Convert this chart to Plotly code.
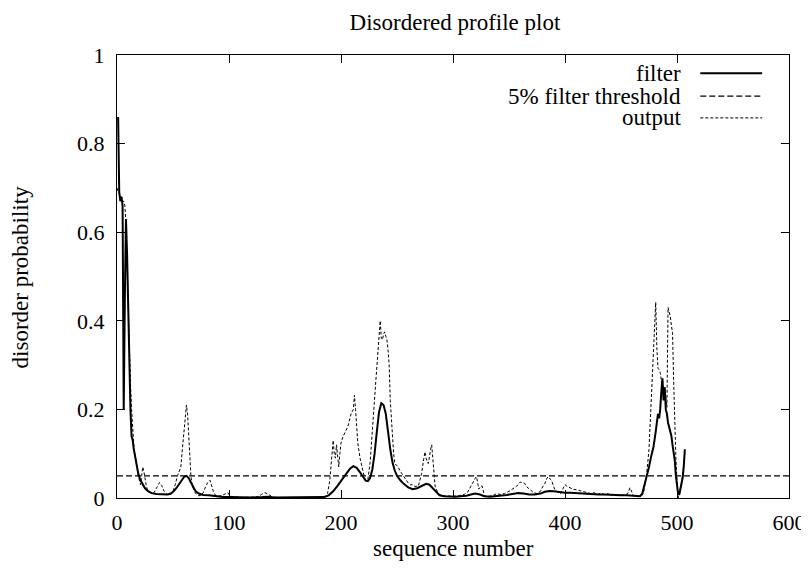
import plotly.graph_objects as go

# ---- data ----
filter_x = [1, 2, 3, 4, 5, 6, 7, 8, 9, 10, 11, 12, 13, 14, 15, 17, 19, 21, 23, 25, 28, 31, 35, 40, 45, 48,
            51, 54, 57, 60, 62, 64, 66, 68, 70, 73, 77, 82, 88, 95, 100, 110, 120, 130, 135, 140, 150, 160,
            170, 180, 185, 189, 193, 197, 201, 205, 208, 211, 214, 217, 220, 222, 224, 226, 228, 230, 232,
            234, 236, 238, 240, 241, 242, 244, 246, 248, 250, 253, 256, 260, 264, 268, 272, 276, 279, 282,
            285, 288, 292, 297, 302, 307, 312, 316, 320, 324, 328, 333, 338, 343, 348, 353, 358, 363, 368,
            373, 378, 382, 386, 390, 395, 400, 405, 410, 415, 420, 425, 430, 435, 440, 445, 450, 455, 460,
            464, 467, 469, 471, 473, 475, 477, 479, 481, 482, 483, 484, 485, 486, 487, 488, 489, 490, 491,
            492, 493, 494, 495, 496, 497, 498, 499, 500, 501, 502, 503, 504, 505, 506, 507]
filter_y = [0.86, 0.69, 0.67, 0.68, 0.66, 0.2, 0.45, 0.63, 0.55, 0.4, 0.3, 0.2, 0.14, 0.13, 0.11, 0.08,
            0.055, 0.04, 0.03, 0.022, 0.015, 0.011, 0.009, 0.008, 0.008, 0.01, 0.016, 0.026, 0.038, 0.048,
            0.05, 0.045, 0.035, 0.024, 0.016, 0.01, 0.007, 0.006, 0.004, 0.002, 0.002, 0.001, 0.001, 0.002,
            0.003, 0.001, 0.001, 0.001, 0.001, 0.001, 0.002, 0.006, 0.015, 0.028, 0.042, 0.056, 0.066, 0.072,
            0.068, 0.058, 0.046, 0.039, 0.038, 0.045, 0.065, 0.1, 0.15, 0.195, 0.214, 0.21, 0.19, 0.16, 0.15,
            0.11, 0.08, 0.062, 0.05, 0.04, 0.032, 0.024, 0.02, 0.022, 0.028, 0.032, 0.03, 0.022, 0.012, 0.006,
            0.004, 0.003, 0.003, 0.004, 0.005, 0.008, 0.01, 0.008, 0.004, 0.003, 0.004, 0.005, 0.007, 0.009,
            0.011, 0.01, 0.008, 0.008, 0.01, 0.014, 0.016, 0.015, 0.013, 0.012, 0.012, 0.011, 0.01, 0.01,
            0.009, 0.008, 0.008, 0.007, 0.007, 0.006, 0.006, 0.005, 0.004, 0.004, 0.01, 0.028, 0.048, 0.07,
            0.095, 0.115, 0.15, 0.17, 0.19, 0.18, 0.2, 0.24, 0.27, 0.22, 0.25, 0.2, 0.19, 0.17, 0.16, 0.15,
            0.14, 0.12, 0.1, 0.085, 0.05, 0.02, 0.01, 0.007, 0.02, 0.03, 0.045, 0.07, 0.11]

output_x = [0, 1, 2, 3, 4, 5, 6, 7, 8, 9, 10, 11, 12, 13, 14, 15, 16, 17, 18, 19, 20, 21, 22, 23, 24, 25,
            26, 27, 29, 31, 33, 35, 37, 38, 40, 42, 44, 46, 48, 50, 52, 54, 56, 57, 58, 59, 60, 61, 62, 63,
            64, 65, 66, 67, 69, 71, 73, 75, 77, 79, 81, 83, 84, 86, 88, 91, 94, 97, 99, 101, 105, 110, 120,
            126, 129, 132, 134, 136, 139, 145, 155, 165, 175, 182, 186, 188, 190, 192, 193, 194, 195, 196,
            197, 198, 199, 200, 202, 204, 206, 207, 209, 211, 212, 213, 215, 217, 218, 220, 221, 223, 224,
            226, 227, 228, 230, 232, 233, 234, 235, 236, 237, 238, 239, 240, 241, 242, 243, 244, 245, 246,
            247, 248, 250, 251, 253, 254, 256, 257, 259, 260, 262, 264, 266, 269, 271, 272, 274, 275, 276,
            277, 278, 279, 280, 281, 282, 283, 284, 286, 288, 291, 295, 300, 305, 310, 313, 316, 318, 320,
            321, 322, 323, 325, 326, 328, 332, 336, 339, 342, 346, 350, 354, 357, 360, 362, 364, 366, 369,
            372, 375, 378, 380, 382, 384, 385, 387, 388, 390, 391, 394, 396, 398, 400, 402, 404, 407, 411,
            415, 420, 423, 426, 429, 432, 435, 438, 441, 444, 447, 450, 453, 456, 458, 459, 461, 465, 468,
            470, 472, 473, 475, 476, 477, 478, 479, 480, 481, 482, 483, 484, 485, 486, 487, 488, 489, 490,
            491, 492, 493, 494, 495, 496, 497, 498, 499, 500, 501, 502, 503, 504, 505, 506, 507]
output_y = [0.7, 0.69, 0.69, 0.68, 0.68, 0.67, 0.67, 0.66, 0.62, 0.52, 0.42, 0.33, 0.26, 0.2, 0.15, 0.12,
            0.1, 0.08, 0.065, 0.05, 0.04, 0.03, 0.05, 0.07, 0.06, 0.04, 0.03, 0.02, 0.015, 0.01, 0.012, 0.02,
            0.03, 0.035, 0.028, 0.015, 0.01, 0.006, 0.008, 0.015, 0.03, 0.05, 0.063, 0.07, 0.1, 0.13, 0.17,
            0.2, 0.21, 0.19, 0.14, 0.09, 0.05, 0.03, 0.015, 0.008, 0.005, 0.006, 0.012, 0.025, 0.035, 0.04,
            0.03, 0.015, 0.006, 0.004, 0.006, 0.01, 0.012, 0.004, 0.002, 0.001, 0.002, 0.003, 0.008, 0.012,
            0.01, 0.006, 0.002, 0.001, 0.001, 0.001, 0.002, 0.002, 0.004, 0.01, 0.04, 0.1, 0.13, 0.1, 0.09,
            0.12, 0.1, 0.07, 0.1, 0.124, 0.14, 0.15, 0.16, 0.17, 0.19, 0.2, 0.232, 0.2, 0.124, 0.09, 0.078,
            0.055, 0.045, 0.04, 0.042, 0.08, 0.12, 0.146, 0.236, 0.296, 0.33, 0.38, 0.4, 0.36, 0.357, 0.37,
            0.375, 0.365, 0.357, 0.334, 0.3, 0.22, 0.17, 0.13, 0.1, 0.078, 0.072, 0.07, 0.06, 0.056, 0.05,
            0.045, 0.038, 0.034, 0.03, 0.03, 0.026, 0.027, 0.045, 0.056, 0.09, 0.104, 0.09, 0.08, 0.078, 0.1,
            0.11, 0.12, 0.09, 0.06, 0.027, 0.015, 0.008, 0.005, 0.004, 0.004, 0.005, 0.008, 0.013, 0.025,
            0.036, 0.045, 0.048, 0.035, 0.02, 0.027, 0.027, 0.005, 0.004, 0.006, 0.01, 0.008, 0.01, 0.015,
            0.023, 0.027, 0.036, 0.034, 0.033, 0.025, 0.018, 0.012, 0.01, 0.015, 0.025, 0.033, 0.045, 0.048,
            0.042, 0.04, 0.025, 0.018, 0.012, 0.01, 0.02, 0.03, 0.026, 0.023, 0.02, 0.018, 0.015, 0.012, 0.01,
            0.012, 0.008, 0.011, 0.008, 0.01, 0.007, 0.008, 0.006, 0.007, 0.006, 0.01, 0.023, 0.018, 0.005,
            0.003, 0.004, 0.01, 0.035, 0.056, 0.11, 0.16, 0.21, 0.266, 0.33, 0.364, 0.442, 0.34, 0.293, 0.29,
            0.283, 0.266, 0.24, 0.228, 0.25, 0.22, 0.205, 0.43, 0.42, 0.41, 0.39, 0.372, 0.266, 0.153, 0.09,
            0.04, 0.0, 0.01, 0.02, 0.035, 0.05, 0.07, 0.1]

threshold_x = [0, 600]
threshold_y = [0.05, 0.05]

x_ticks = [0, 100, 200, 300, 400, 500, 600]
y_ticks = [0, 0.2, 0.4, 0.6, 0.8, 1]
y_tick_text = ["0", "0.2", "0.4", "0.6", "0.8", "1"]

legend_names = ["filter", "5% filter threshold", "output"]

FONT = "Liberation Serif, Times New Roman, serif"
TXT = 23
TICK = 22
filter_style = dict(color="black", width=2)
thresh_style = dict(color="black", width=1.3, dash="6px,3px")
output_style = dict(color="black", width=1, dash="3px,2px")

fig = go.Figure()
fig.add_trace(go.Scatter(x=filter_x, y=filter_y, mode="lines", line=filter_style, name=legend_names[0]))
fig.add_trace(go.Scatter(x=threshold_x, y=threshold_y, mode="lines", line=thresh_style, name=legend_names[1]))
fig.add_trace(go.Scatter(x=output_x, y=output_y, mode="lines", line=output_style, name=legend_names[2]))

# gnuplot-style key: text right-aligned, sample on the right
rows = [0.959, 0.907, 0.858]
styles = [filter_style, thresh_style, output_style]
for name, yy, st in zip(legend_names, rows, styles):
    fig.add_annotation(x=0.841, y=yy, xref="paper", yref="paper", text=name, showarrow=False,
                       xanchor="right", yanchor="middle", borderpad=0,
                       font=dict(family=FONT, size=TXT, color="black"))
    fig.add_shape(type="line", xref="paper", yref="paper", x0=0.868, x1=0.96, y0=yy, y1=yy,
                  line=st)

fig.add_annotation(x=0.5, y=-0.113, xref="paper", yref="paper", text="sequence number", showarrow=False,
                   xanchor="center", yanchor="middle", font=dict(family=FONT, size=TXT, color="black"))
fig.add_annotation(x=-0.143, y=0.5, xref="paper", yref="paper", text="disorder probability", showarrow=False,
                   textangle=-90, xanchor="center", yanchor="middle",
                   font=dict(family=FONT, size=TXT, color="black"))

# the page body adds an 8px offset, so the figure is 8px smaller and margins 8px tighter
fig.update_layout(
    width=801, height=562,
    margin=dict(l=109, r=20, t=47, b=72, autoexpand=False),
    plot_bgcolor="white", paper_bgcolor="white",
    showlegend=False,
    title=dict(text="Disordered profile plot", x=0.558, xanchor="center", y=1 - 14 / 562, yanchor="middle",
               yref="container", font=dict(family=FONT, size=TXT, color="black")),
    font=dict(family=FONT, size=TICK, color="black"),
)
fig.update_xaxes(range=[0, 600], tickvals=x_ticks, ticks="inside", ticklen=8, tickcolor="black",
                 showline=True, linecolor="black", linewidth=1, mirror="ticks", showgrid=False,
                 zeroline=False, ticklabelstandoff=5, tickfont=dict(family=FONT, size=TICK),
                 automargin=False)
fig.update_yaxes(range=[0, 1], tickvals=y_ticks, ticktext=y_tick_text, ticks="inside", ticklen=8,
                 tickcolor="black", showline=True, linecolor="black", linewidth=1, mirror="ticks",
                 showgrid=False, zeroline=False, ticklabelstandoff=7, tickfont=dict(family=FONT, size=TICK),
                 automargin=False)

fig.write_html("out.html")
